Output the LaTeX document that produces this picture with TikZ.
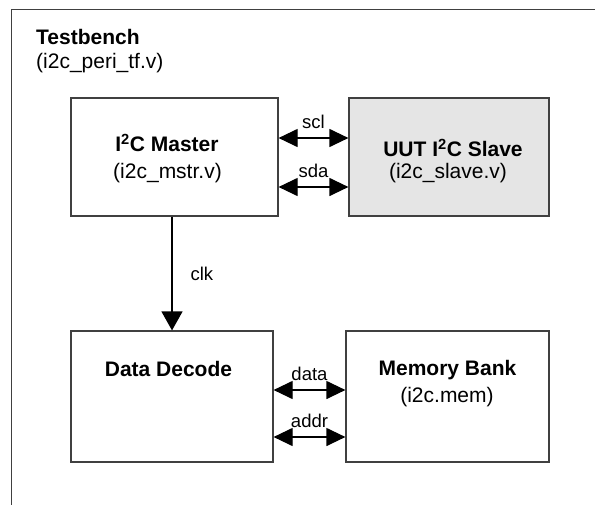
\documentclass[tikz,border=0pt]{standalone}
\usepackage{fontspec}
\setmainfont{Liberation Sans}
\usetikzlibrary{arrows.meta,positioning}
\tikzset{block/.style={rectangle,draw=black!75,line width=1.2pt,inner sep=0pt}}
\tikzset{dut/.style={block,fill=black!10}}
\tikzset{title/.style={font=\fontsize{21}{25}\selectfont\bfseries,inner sep=0pt}}
\tikzset{file/.style={font=\fontsize{21}{25}\selectfont,inner sep=0pt}}
\tikzset{sig/.style={font=\fontsize{18.5}{22}\selectfont,inner sep=0pt}}
\tikzset{bus/.style={{Triangle[length=19pt,width=18pt]}-{Triangle[length=19pt,width=18pt]},line width=1.2pt}}
\tikzset{wire/.style={-{Triangle[length=19pt,width=21pt]},line width=1.2pt}}

\begin{document}
\begin{tikzpicture}[x=1pt,y=-1pt]
    \clip (0,0) rectangle (595,504);

    % testbench frame, runs off the page on the right and bottom
    \node[block,anchor=north west,minimum width=620pt,minimum height=530pt] (tb) at (11,9) {};
    \node[title,anchor=west] (tbname) at (36,37) {Testbench};
    \node[file,anchor=west]  (tbfile) at (36,63) {(i2c\_peri\_tf.v)};

    \node[block,minimum width=207pt,minimum height=118pt] (mstr) at (174.5,157) {};
    \node[dut,  minimum width=200pt,minimum height=118pt] (uut)  at (449,157)   {};
    \node[block,minimum width=202pt,minimum height=131pt] (dec)  at (172,396.5) {};
    \node[block,minimum width=203pt,minimum height=131pt] (mem)  at (447.5,396.5) {};

    \node[title] (mstrname) at (167,143)   {I\textsuperscript{2}C Master};
    \node[file]  (mstrfile) at (167.5,173) {(i2c\_mstr.v)};
    \node[title] (uutname)  at (453,148)   {UUT I\textsuperscript{2}C Slave};
    \node[file]  (uutfile)  at (448,173)   {(i2c\_slave.v)};
    \node[title] (decname)  at (168.5,369) {Data Decode};
    \node[title] (memname)  at (447.5,370) {Memory Bank};
    \node[file]  (memfile)  at (447,397)   {(i2c.mem)};

    \draw[bus] ([yshift=19pt]mstr.east) -- ([yshift=19pt]uut.west) node[sig,midway,above=9pt] (scl) {scl};
    \draw[bus] ([yshift=-30pt]mstr.east) -- ([yshift=-30pt]uut.west) node[sig,midway,above=9pt] (sda) {sda};
    \draw[bus] ([yshift=6.5pt]dec.east) -- ([yshift=6.5pt]mem.west) node[sig,midway,above=9pt] (data) {data};
    \draw[bus] ([yshift=-40.5pt]dec.east) -- ([yshift=-40.5pt]mem.west) node[sig,midway,above=9pt] (addr) {addr};
    \draw[wire] (mstr.south -| dec.north) -- (dec.north) node[sig,midway,right=18pt] (clk) {clk};
\end{tikzpicture}
\end{document}
